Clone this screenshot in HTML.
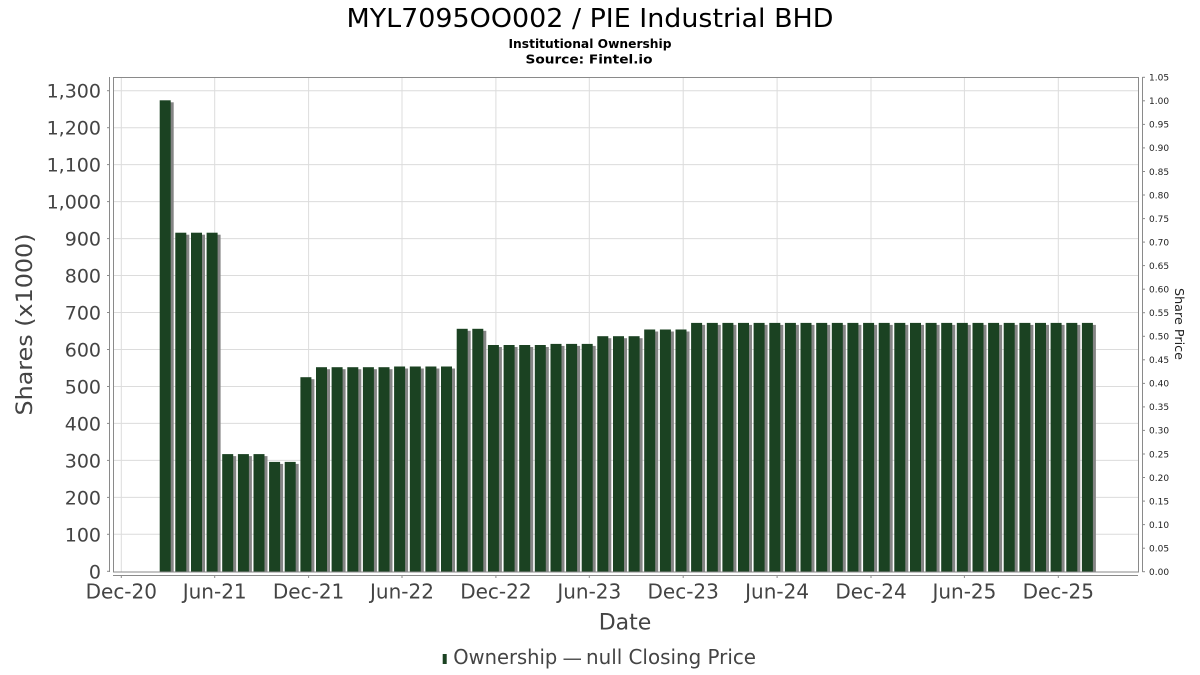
<!DOCTYPE html>
<html>
<head>
<meta charset="utf-8">
<style>
html,body{margin:0;padding:0;background:#fff;}
svg{display:block;font-family:"DejaVu Sans","Liberation Sans",sans-serif;}
</style>
</head>
<body>
<svg width="1200" height="675" viewBox="0 0 1200 675" xmlns="http://www.w3.org/2000/svg">
<defs>
<clipPath id="plot"><rect x="113" y="77" width="1026" height="495"/></clipPath>
<g id="bars">
<rect x="159.7" y="100.3" width="11" height="471.7"/>
<rect x="175.3" y="232.7" width="11" height="339.3"/>
<rect x="191.0" y="232.7" width="11" height="339.3"/>
<rect x="206.6" y="232.7" width="11" height="339.3"/>
<rect x="222.2" y="454.1" width="11" height="117.9"/>
<rect x="237.9" y="454.1" width="11" height="117.9"/>
<rect x="253.5" y="454.1" width="11" height="117.9"/>
<rect x="269.1" y="461.9" width="11" height="110.1"/>
<rect x="284.7" y="461.9" width="11" height="110.1"/>
<rect x="300.4" y="377.2" width="11" height="194.8"/>
<rect x="316.0" y="367.2" width="11" height="204.8"/>
<rect x="331.6" y="367.2" width="11" height="204.8"/>
<rect x="347.3" y="367.2" width="11" height="204.8"/>
<rect x="362.9" y="367.2" width="11" height="204.8"/>
<rect x="378.5" y="367.2" width="11" height="204.8"/>
<rect x="394.1" y="366.5" width="11" height="205.5"/>
<rect x="409.8" y="366.5" width="11" height="205.5"/>
<rect x="425.4" y="366.5" width="11" height="205.5"/>
<rect x="441.0" y="366.5" width="11" height="205.5"/>
<rect x="456.7" y="328.8" width="11" height="243.2"/>
<rect x="472.3" y="328.8" width="11" height="243.2"/>
<rect x="487.9" y="345.0" width="11" height="227.0"/>
<rect x="503.6" y="345.0" width="11" height="227.0"/>
<rect x="519.2" y="345.0" width="11" height="227.0"/>
<rect x="534.8" y="345.0" width="11" height="227.0"/>
<rect x="550.5" y="343.9" width="11" height="228.1"/>
<rect x="566.1" y="343.9" width="11" height="228.1"/>
<rect x="581.7" y="343.9" width="11" height="228.1"/>
<rect x="597.3" y="336.2" width="11" height="235.8"/>
<rect x="613.0" y="336.2" width="11" height="235.8"/>
<rect x="628.6" y="336.2" width="11" height="235.8"/>
<rect x="644.2" y="329.5" width="11" height="242.5"/>
<rect x="659.9" y="329.5" width="11" height="242.5"/>
<rect x="675.5" y="329.5" width="11" height="242.5"/>
<rect x="691.1" y="322.9" width="11" height="249.1"/>
<rect x="706.8" y="322.9" width="11" height="249.1"/>
<rect x="722.4" y="322.9" width="11" height="249.1"/>
<rect x="738.0" y="322.9" width="11" height="249.1"/>
<rect x="753.6" y="322.9" width="11" height="249.1"/>
<rect x="769.3" y="322.9" width="11" height="249.1"/>
<rect x="784.9" y="322.9" width="11" height="249.1"/>
<rect x="800.5" y="322.9" width="11" height="249.1"/>
<rect x="816.2" y="322.9" width="11" height="249.1"/>
<rect x="831.8" y="322.9" width="11" height="249.1"/>
<rect x="847.4" y="322.9" width="11" height="249.1"/>
<rect x="863.1" y="322.9" width="11" height="249.1"/>
<rect x="878.7" y="322.9" width="11" height="249.1"/>
<rect x="894.3" y="322.9" width="11" height="249.1"/>
<rect x="910.0" y="322.9" width="11" height="249.1"/>
<rect x="925.6" y="322.9" width="11" height="249.1"/>
<rect x="941.2" y="322.9" width="11" height="249.1"/>
<rect x="956.8" y="322.9" width="11" height="249.1"/>
<rect x="972.5" y="322.9" width="11" height="249.1"/>
<rect x="988.1" y="322.9" width="11" height="249.1"/>
<rect x="1003.7" y="322.9" width="11" height="249.1"/>
<rect x="1019.4" y="322.9" width="11" height="249.1"/>
<rect x="1035.0" y="322.9" width="11" height="249.1"/>
<rect x="1050.6" y="322.9" width="11" height="249.1"/>
<rect x="1066.3" y="322.9" width="11" height="249.1"/>
<rect x="1081.9" y="322.9" width="11" height="249.1"/>
</g>
</defs>

<!-- Title -->
<text x="590" y="27" font-size="26" text-anchor="middle" fill="#000" textLength="487" lengthAdjust="spacingAndGlyphs">MYL7095OO002 / PIE Industrial BHD</text>
<text x="590" y="48" font-size="12" font-weight="bold" text-anchor="middle" fill="#000" textLength="163" lengthAdjust="spacingAndGlyphs">Institutional Ownership</text>
<text x="589" y="63.5" font-size="12" font-weight="bold" text-anchor="middle" fill="#000" textLength="127" lengthAdjust="spacingAndGlyphs">Source: Fintel.io</text>

<!-- gridlines -->
<g stroke="#dcdcdc" stroke-width="1">
<line x1="113" y1="534.3" x2="1138" y2="534.3"/>
<line x1="113" y1="497.4" x2="1138" y2="497.4"/>
<line x1="113" y1="460.4" x2="1138" y2="460.4"/>
<line x1="113" y1="423.4" x2="1138" y2="423.4"/>
<line x1="113" y1="386.5" x2="1138" y2="386.5"/>
<line x1="113" y1="349.5" x2="1138" y2="349.5"/>
<line x1="113" y1="312.5" x2="1138" y2="312.5"/>
<line x1="113" y1="275.5" x2="1138" y2="275.5"/>
<line x1="113" y1="238.6" x2="1138" y2="238.6"/>
<line x1="113" y1="201.6" x2="1138" y2="201.6"/>
<line x1="113" y1="164.6" x2="1138" y2="164.6"/>
<line x1="113" y1="127.7" x2="1138" y2="127.7"/>
<line x1="113" y1="90.7" x2="1138" y2="90.7"/>
<line x1="121.3" y1="77" x2="121.3" y2="572"/>
<line x1="214.7" y1="77" x2="214.7" y2="572"/>
<line x1="308.6" y1="77" x2="308.6" y2="572"/>
<line x1="402.0" y1="77" x2="402.0" y2="572"/>
<line x1="495.9" y1="77" x2="495.9" y2="572"/>
<line x1="589.3" y1="77" x2="589.3" y2="572"/>
<line x1="683.2" y1="77" x2="683.2" y2="572"/>
<line x1="777.1" y1="77" x2="777.1" y2="572"/>
<line x1="871.0" y1="77" x2="871.0" y2="572"/>
<line x1="964.4" y1="77" x2="964.4" y2="572"/>
<line x1="1058.3" y1="77" x2="1058.3" y2="572"/>
</g>

<!-- bars -->
<g clip-path="url(#plot)">
<use href="#bars" fill="#858585" transform="translate(3,2)"/>
<use href="#bars" fill="#1b4222"/>
</g>

<!-- plot border -->
<rect x="113.5" y="77.5" width="1025" height="494.5" fill="none" stroke="#8a8a8a" stroke-width="1"/>

<!-- left axis -->
<g stroke="#8a8a8a" stroke-width="1">
<line x1="109.5" y1="77" x2="109.5" y2="572"/>
<line x1="107" y1="571.3" x2="109.5" y2="571.3"/>
<line x1="107" y1="534.3" x2="109.5" y2="534.3"/>
<line x1="107" y1="497.4" x2="109.5" y2="497.4"/>
<line x1="107" y1="460.4" x2="109.5" y2="460.4"/>
<line x1="107" y1="423.4" x2="109.5" y2="423.4"/>
<line x1="107" y1="386.5" x2="109.5" y2="386.5"/>
<line x1="107" y1="349.5" x2="109.5" y2="349.5"/>
<line x1="107" y1="312.5" x2="109.5" y2="312.5"/>
<line x1="107" y1="275.5" x2="109.5" y2="275.5"/>
<line x1="107" y1="238.6" x2="109.5" y2="238.6"/>
<line x1="107" y1="201.6" x2="109.5" y2="201.6"/>
<line x1="107" y1="164.6" x2="109.5" y2="164.6"/>
<line x1="107" y1="127.7" x2="109.5" y2="127.7"/>
<line x1="107" y1="90.7" x2="109.5" y2="90.7"/>
</g>
<g font-size="19" fill="#444" text-anchor="end">
<text x="101" y="578.3">0</text>
<text x="101" y="541.3">100</text>
<text x="101" y="504.4">200</text>
<text x="101" y="467.4">300</text>
<text x="101" y="430.4">400</text>
<text x="101" y="393.5">500</text>
<text x="101" y="356.5">600</text>
<text x="101" y="319.5">700</text>
<text x="101" y="282.5">800</text>
<text x="101" y="245.6">900</text>
<text x="101" y="208.6">1,000</text>
<text x="101" y="171.6">1,100</text>
<text x="101" y="134.7">1,200</text>
<text x="101" y="97.7">1,300</text>
</g>
<text transform="translate(32,324.5) rotate(-90)" font-size="22" fill="#444" text-anchor="middle" textLength="182" lengthAdjust="spacingAndGlyphs">Shares (x1000)</text>

<!-- bottom axis -->
<g stroke="#8a8a8a" stroke-width="1">
<line x1="113" y1="575.5" x2="1138" y2="575.5"/>
<line x1="121.3" y1="575.5" x2="121.3" y2="578"/>
<line x1="214.7" y1="575.5" x2="214.7" y2="578"/>
<line x1="308.6" y1="575.5" x2="308.6" y2="578"/>
<line x1="402.0" y1="575.5" x2="402.0" y2="578"/>
<line x1="495.9" y1="575.5" x2="495.9" y2="578"/>
<line x1="589.3" y1="575.5" x2="589.3" y2="578"/>
<line x1="683.2" y1="575.5" x2="683.2" y2="578"/>
<line x1="777.1" y1="575.5" x2="777.1" y2="578"/>
<line x1="871.0" y1="575.5" x2="871.0" y2="578"/>
<line x1="964.4" y1="575.5" x2="964.4" y2="578"/>
<line x1="1058.3" y1="575.5" x2="1058.3" y2="578"/>
</g>
<g font-size="20" fill="#444" text-anchor="middle">
<text x="121.3" y="598.5">Dec-20</text>
<text x="214.7" y="598.5">Jun-21</text>
<text x="308.6" y="598.5">Dec-21</text>
<text x="402.0" y="598.5">Jun-22</text>
<text x="495.9" y="598.5">Dec-22</text>
<text x="589.3" y="598.5">Jun-23</text>
<text x="683.2" y="598.5">Dec-23</text>
<text x="777.1" y="598.5">Jun-24</text>
<text x="871.0" y="598.5">Dec-24</text>
<text x="964.4" y="598.5">Jun-25</text>
<text x="1058.3" y="598.5">Dec-25</text>
</g>
<text x="625" y="629.5" font-size="22" fill="#444" text-anchor="middle">Date</text>

<!-- right axis -->
<g stroke="#8a8a8a" stroke-width="1">
<line x1="1142.5" y1="77" x2="1142.5" y2="572"/>
<line x1="1142.5" y1="571.7" x2="1145" y2="571.7"/>
<line x1="1142.5" y1="548.2" x2="1145" y2="548.2"/>
<line x1="1142.5" y1="524.6" x2="1145" y2="524.6"/>
<line x1="1142.5" y1="501.1" x2="1145" y2="501.1"/>
<line x1="1142.5" y1="477.5" x2="1145" y2="477.5"/>
<line x1="1142.5" y1="454.0" x2="1145" y2="454.0"/>
<line x1="1142.5" y1="430.4" x2="1145" y2="430.4"/>
<line x1="1142.5" y1="406.9" x2="1145" y2="406.9"/>
<line x1="1142.5" y1="383.4" x2="1145" y2="383.4"/>
<line x1="1142.5" y1="359.8" x2="1145" y2="359.8"/>
<line x1="1142.5" y1="336.3" x2="1145" y2="336.3"/>
<line x1="1142.5" y1="312.7" x2="1145" y2="312.7"/>
<line x1="1142.5" y1="289.2" x2="1145" y2="289.2"/>
<line x1="1142.5" y1="265.6" x2="1145" y2="265.6"/>
<line x1="1142.5" y1="242.1" x2="1145" y2="242.1"/>
<line x1="1142.5" y1="218.6" x2="1145" y2="218.6"/>
<line x1="1142.5" y1="195.0" x2="1145" y2="195.0"/>
<line x1="1142.5" y1="171.5" x2="1145" y2="171.5"/>
<line x1="1142.5" y1="147.9" x2="1145" y2="147.9"/>
<line x1="1142.5" y1="124.4" x2="1145" y2="124.4"/>
<line x1="1142.5" y1="100.8" x2="1145" y2="100.8"/>
<line x1="1142.5" y1="77.3" x2="1145" y2="77.3"/>
</g>
<g font-size="9" fill="#222">
<text x="1149" y="575">0.00</text>
<text x="1149" y="551.5">0.05</text>
<text x="1149" y="527.9">0.10</text>
<text x="1149" y="504.4">0.15</text>
<text x="1149" y="480.8">0.20</text>
<text x="1149" y="457.3">0.25</text>
<text x="1149" y="433.7">0.30</text>
<text x="1149" y="410.2">0.35</text>
<text x="1149" y="386.7">0.40</text>
<text x="1149" y="363.1">0.45</text>
<text x="1149" y="339.6">0.50</text>
<text x="1149" y="316.0">0.55</text>
<text x="1149" y="292.5">0.60</text>
<text x="1149" y="268.9">0.65</text>
<text x="1149" y="245.4">0.70</text>
<text x="1149" y="221.9">0.75</text>
<text x="1149" y="198.3">0.80</text>
<text x="1149" y="174.8">0.85</text>
<text x="1149" y="151.2">0.90</text>
<text x="1149" y="127.7">0.95</text>
<text x="1149" y="104.1">1.00</text>
<text x="1149" y="80.6">1.05</text>
</g>
<text transform="translate(1175,324) rotate(90)" font-size="12" fill="#222" text-anchor="middle" textLength="72" lengthAdjust="spacingAndGlyphs">Share Price</text>

<!-- legend -->
<rect x="442.7" y="654" width="4" height="10" fill="#1b4222"/>
<text x="453.3" y="664" font-size="20" fill="#444" textLength="104" lengthAdjust="spacingAndGlyphs">Ownership</text>
<line x1="563.5" y1="659.3" x2="581" y2="659.3" stroke="#555" stroke-width="1.5"/>
<text x="586" y="664" font-size="20" fill="#444" textLength="170" lengthAdjust="spacingAndGlyphs">null Closing Price</text>
</svg>
</body>
</html>
